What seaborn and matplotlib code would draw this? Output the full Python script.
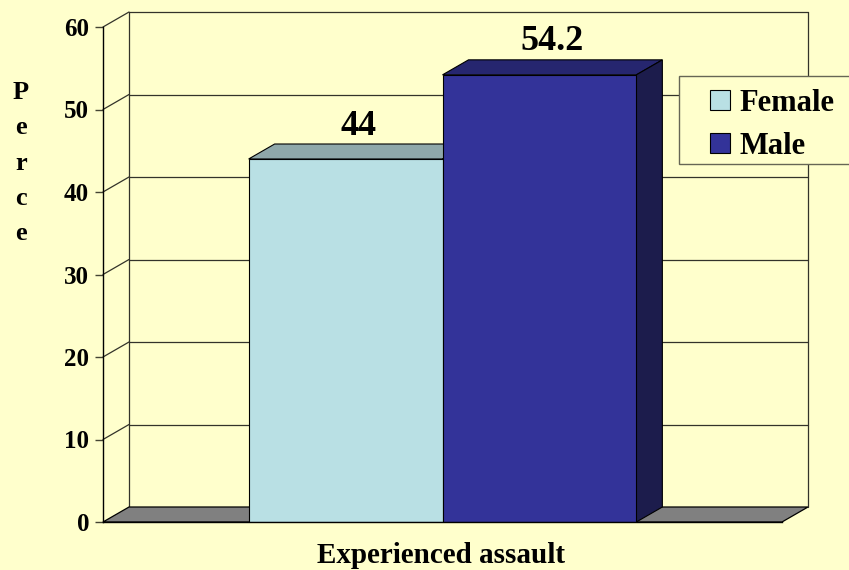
import pandas as pd
import matplotlib
matplotlib.use("Agg")
import matplotlib.pyplot as plt
import seaborn as sns
from matplotlib.patches import Polygon, Rectangle

# --- data ---
groups = ["Experienced assault"]
sexes = ["Female", "Male"]
percents = [44.0, 54.2]
yticks = [0, 10, 20, 30, 40, 50, 60]

# --- style ---
bg = "#FFFFCC"
front_cols = {"Female": "#B9E0E4", "Male": "#333399"}
top_cols = ["#8FA8AA", "#26266F"]
side_cols = ["#6F8789", "#1C1C4C"]
floor_col = "#808080"
line_col = "#33332A"

sns.set_style("white")
plt.rcParams["font.family"] = ["Liberation Serif", "DejaVu Serif"]
plt.rcParams["font.weight"] = "bold"
for key in ["text.color", "axes.labelcolor", "xtick.color", "ytick.color"]:
    plt.rcParams[key] = "black"

df = pd.DataFrame({"group": groups * len(sexes), "sex": sexes, "value": percents})

fig = plt.figure(figsize=(8.49, 5.70), dpi=100, facecolor=bg)
W, H = 849, 570
ax = fig.add_axes([103 / W, 1 - 522 / H, (782 - 103) / W, (522 - 27) / H])
ax.set_facecolor("none")

# depth of the fake 3D box, in data units
dx = 26 / 679
dy = 15 / 8.25

# back wall and left wall lines
x0, x1 = -0.5, 0.5
for k in yticks[1:]:
    ax.plot([x0 + dx, x1 + dx], [k + dy, k + dy], color=line_col, lw=0.9,
            zorder=0.5, clip_on=False)
    ax.plot([x0, x0 + dx], [k, k + dy], color=line_col, lw=0.9,
            zorder=0.5, clip_on=False)
ax.plot([x0 + dx, x0 + dx], [dy, 60 + dy], color=line_col, lw=0.9, zorder=0.5, clip_on=False)
ax.plot([x1 + dx, x1 + dx], [dy, 60 + dy], color=line_col, lw=0.9, zorder=0.5, clip_on=False)

# floor
ax.add_patch(Polygon([[x0, 0], [x1, 0], [x1 + dx, dy], [x0 + dx, dy]],
                     closed=True, facecolor=floor_col, edgecolor="black",
                     lw=0.9, zorder=0.6, clip_on=False))

# bars
sns.barplot(data=df, x="group", y="value", hue="sex", hue_order=sexes,
            palette=front_cols, saturation=1, width=0.571, gap=0,
            edgecolor="black", linewidth=0.8, legend=False, ax=ax, zorder=1)
ax.set_xlim(-0.5, 0.5)
ax.set_ylim(0, 60)

for i, cont in enumerate(ax.containers):
    for bar in cont.patches:
        bx, bw, bh = bar.get_x(), bar.get_width(), bar.get_height()
        ax.add_patch(Polygon([[bx, bh], [bx + bw, bh], [bx + bw + dx, bh + dy], [bx + dx, bh + dy]],
                             closed=True, facecolor=top_cols[i], edgecolor="black",
                             lw=0.8, zorder=0.9, clip_on=False))
        ax.add_patch(Polygon([[bx + bw, 0], [bx + bw + dx, dy], [bx + bw + dx, bh + dy], [bx + bw, bh]],
                             closed=True, facecolor=side_cols[i], edgecolor="black",
                             lw=0.8, zorder=0.9, clip_on=False))
        ax.annotate(f"{bh:g}", (bx + bw / 2 + dx / 2, bh + dy), xytext=(0, 1),
                    textcoords="offset points", ha="center", va="bottom",
                    fontsize=26, fontweight="bold", zorder=3)

# axes
for s in ["top", "right"]:
    ax.spines[s].set_visible(False)
for s in ["left", "bottom"]:
    ax.spines[s].set_color("black")
    ax.spines[s].set_linewidth(1.0)
ax.set_yticks(yticks)
ax.tick_params(axis="y", direction="out", length=6, width=1, color="#444433",
               labelsize=18, pad=4, left=True)
ax.set_xticks([])
ax.set_xlabel("")
ax.set_ylabel("")

fig.text(441 / W, 1 - 563 / H, groups[0], ha="center", va="baseline",
         fontsize=21, fontweight="bold")
fig.text(21 / W, 1 - 163 / H, "P\ne\nr\nc\ne", ha="center", va="center",
         fontsize=19, fontweight="bold", linespacing=1.68)

# legend
fig.patches.append(Rectangle((679 / W, 1 - 164 / H), 200 / W, 88 / H,
                             transform=fig.transFigure, facecolor=bg,
                             edgecolor="#666655", lw=1.0, zorder=4))
leg = fig.legend(handles=list(ax.containers), labels=sexes, loc="upper left",
                 bbox_to_anchor=(710 / W, 1 - 89 / H), bbox_transform=fig.transFigure,
                 frameon=False, prop={"size": 22, "weight": "bold"},
                 handlelength=0.65, handleheight=0.65, handletextpad=0.3,
                 labelspacing=0.45, borderpad=0, borderaxespad=0)
leg.set_zorder(5)

fig.savefig("out.png", dpi=100, facecolor=bg)
